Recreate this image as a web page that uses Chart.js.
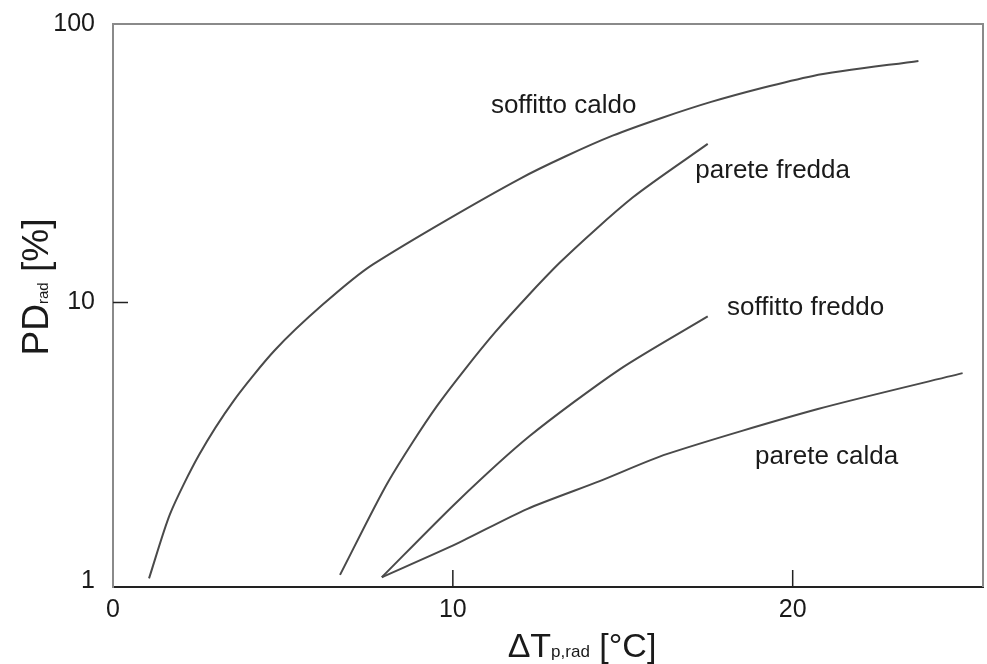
<!DOCTYPE html>
<html>
<head>
<meta charset="utf-8">
<title>PD rad</title>
<script src="https://cdn.jsdelivr.net/npm/chart.js@4.4.1/dist/chart.umd.min.js"></script>
<style>
  html, body { margin: 0; padding: 0; background: #fff; }
  #wrap { width: 987px; height: 664px; }
</style>
</head>
<body>
<div id="wrap"><canvas id="myChart"></canvas></div>
<script>
let xTicks = [0, 10, 20];
let yTicks = [1, 10, 100];

let soffittoCaldoX = [1.06, 1.68, 2.53, 3.56, 4.76, 6.18, 7.65, 11.97, 14.7, 17.6, 20.6, 23.7];
let soffittoCaldoY = [1.02, 1.74, 2.83, 4.45, 6.73, 9.84, 13.7, 27.8, 39.7, 52.5, 65.1, 73.7];

let pareteFreddaX = [6.68, 8.09, 9.53, 11.24, 13.15, 15.29, 17.5];
let pareteFreddaY = [1.05, 2.26, 4.24, 7.8, 13.9, 23.8, 37.1];

let soffittoFreddoX = [7.91, 10.12, 12.26, 14.91, 17.5];
let soffittoFreddoY = [1.03, 1.92, 3.31, 5.75, 8.91];

let pareteCaldaX = [7.91, 10.12, 12.18, 14.32, 16.29, 20.74, 25.0];
let pareteCaldaY = [1.03, 1.36, 1.81, 2.28, 2.85, 4.14, 5.57];

let FONT = '"Liberation Sans", Arial, Helvetica, sans-serif';
let textColor = '#1a1a1a';
let lineColor = '#4a4a4a';

// where the curve names sit, in data units
let curveLabels = [
    { text: 'soffitto caldo', x: 13.26, y: 50.8 },
    { text: 'parete fredda', x: 19.41, y: 29.7 },
    { text: 'soffitto freddo', x: 20.38, y: 9.6 },
    { text: 'parete calda', x: 21.0, y: 2.78 }
];

function toPoints(xs, ys) {
    return xs.map(function (x, i) { return { x: x, y: ys[i] }; });
}

function makeSet(name, xs, ys) {
    return {
        label: name,
        data: toPoints(xs, ys),
        borderColor: lineColor,
        borderWidth: 2,
        pointRadius: 0,
        tension: 0.25,
        fill: false
    };
}

function drawParts(ctx, parts, cx, baseline) {
    let total = 0;
    parts.forEach(function (p) {
        ctx.font = p.size + 'px ' + FONT;
        total += ctx.measureText(p.text).width;
    });
    let x = cx - total / 2;
    parts.forEach(function (p) {
        ctx.font = p.size + 'px ' + FONT;
        ctx.fillText(p.text, x, baseline + (p.shift || 0));
        x += ctx.measureText(p.text).width;
    });
}

let framePlugin = {
    id: 'frame',
    afterDraw: function (chart) {
        let ctx = chart.ctx;
        let a = chart.chartArea;
        let xs = chart.scales.x;
        let ys = chart.scales.y;
        ctx.save();

        // top and right side of the box
        ctx.strokeStyle = '#8a8a8a';
        ctx.lineWidth = 2;
        ctx.beginPath();
        ctx.moveTo(a.left, a.top);
        ctx.lineTo(a.right, a.top);
        ctx.lineTo(a.right, a.bottom);
        ctx.stroke();

        // tick marks pointing inside
        ctx.strokeStyle = '#222';
        ctx.lineWidth = 1.5;
        ctx.beginPath();
        xTicks.slice(1).forEach(function (v) {
            let px = xs.getPixelForValue(v);
            ctx.moveTo(px, a.bottom);
            ctx.lineTo(px, a.bottom - 17);
        });
        yTicks.slice(1, -1).forEach(function (v) {
            let py = ys.getPixelForValue(v);
            ctx.moveTo(a.left, py);
            ctx.lineTo(a.left + 15, py);
        });
        ctx.stroke();

        // curve names
        ctx.fillStyle = textColor;
        ctx.font = '26px ' + FONT;
        ctx.textAlign = 'center';
        ctx.textBaseline = 'middle';
        curveLabels.forEach(function (l) {
            ctx.fillText(l.text, xs.getPixelForValue(l.x), ys.getPixelForValue(l.y));
        });

        // axis titles with subscripts
        ctx.textAlign = 'left';
        ctx.textBaseline = 'alphabetic';
        drawParts(ctx, [
            { text: '\u0394T', size: 34 },
            { text: 'p,rad', size: 17 },
            { text: ' [\u00B0C]', size: 34 }
        ], 582, 657);

        ctx.translate(48, 287);
        ctx.rotate(-Math.PI / 2);
        drawParts(ctx, [
            { text: 'PD', size: 37 },
            { text: 'rad', size: 15 },
            { text: ' [%]', size: 37 }
        ], 0, 0);

        ctx.restore();
    }
};

let ctx = document.getElementById('myChart');

let myChart = new Chart(ctx, {
    type: 'line',
    data: {
        datasets: [
            makeSet('soffitto caldo', soffittoCaldoX, soffittoCaldoY),
            makeSet('parete fredda', pareteFreddaX, pareteFreddaY),
            makeSet('soffitto freddo', soffittoFreddoX, soffittoFreddoY),
            makeSet('parete calda', pareteCaldaX, pareteCaldaY)
        ]
    },
    options: {
        responsive: true,
        maintainAspectRatio: false,
        animation: false,
        layout: { padding: { top: 24, right: 4, left: 0, bottom: 0 } },
        plugins: {
            legend: { display: false },
            tooltip: { enabled: false }
        },
        scales: {
            x: {
                type: 'linear',
                min: 0,
                max: 25.6,
                afterBuildTicks: function (scale) {
                    scale.ticks = xTicks.map(function (v) { return { value: v }; });
                },
                afterFit: function (scale) {
                    scale.height = 77;
                    scale.paddingLeft = 0;
                    scale.paddingRight = 0;
                },
                ticks: {
                    autoSkip: false,
                    maxRotation: 0,
                    padding: 8,
                    color: textColor,
                    font: { family: FONT, size: 25 },
                    callback: function (v) { return String(v); }
                },
                grid: { display: false, drawTicks: false },
                border: { display: true, color: '#222', width: 2 }
            },
            y: {
                type: 'logarithmic',
                min: 0.95,
                max: 100,
                afterBuildTicks: function (scale) {
                    scale.ticks = yTicks.map(function (v) { return { value: v }; });
                },
                afterFit: function (scale) {
                    scale.width = 113;
                    scale.paddingTop = 0;
                    scale.paddingBottom = 0;
                },
                ticks: {
                    autoSkip: false,
                    padding: 18,
                    color: textColor,
                    font: { family: FONT, size: 25 },
                    callback: function (v) { return String(v); }
                },
                grid: { display: false, drawTicks: false },
                border: { display: true, color: '#8a8a8a', width: 2 }
            }
        }
    },
    plugins: [framePlugin]
});
</script>
</body>
</html>
